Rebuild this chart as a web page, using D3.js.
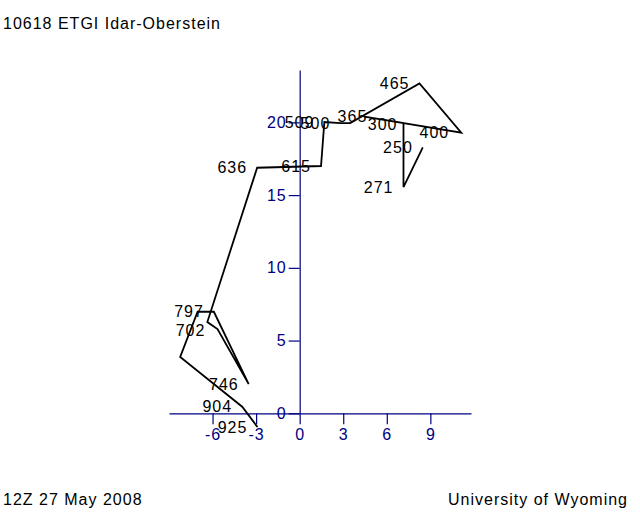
<!DOCTYPE html>
<meta charset='utf-8'>
<head>
  <title>Hodograph 10618</title>
</head>

<style>
body {
  margin: 0;
  background: white;
}

text {
  font-family: "Liberation Sans", Arial, sans-serif;
  font-size: 16px;
  letter-spacing: 1px;
}

.axis path, .axis line {
  stroke: #000080;
  stroke-width: 1.2px;
}

.axis text {
  fill: #000080;
}

.hodo {
  fill: none;
  stroke: black;
  stroke-width: 1.8px;
  stroke-linejoin: miter;
}
</style>

<body>
  <svg width='640' height='512'></svg>

  <script src='https://cdn.jsdelivr.net/npm/d3@7'></script>
  <script>
// levels (hPa), blank where the point has no label
var levels = ['925', '904', '', '', '797', '746', '', '702', '636', '615',
              '509', '500', '', '465', '400', '365', '300', '271', '250'];
// wind components
var uComp = [-2.91, -3.96, -8.23, -7.03, -5.91, -3.51, -5.66, -6.36, -2.93, 1.47,
             1.70, 2.80, 3.48, 8.25, 11.13, 4.45, 7.15, 7.15, 8.48];
var vComp = [-0.94, 0.45, 3.87, 6.99, 6.98, 2.01, 5.79, 6.27, 16.88, 17.0,
             20.02, 19.95, 19.95, 22.68, 19.29, 20.4, 19.95, 15.55, 18.28];

var xTicks = [-6, -3, 0, 3, 6, 9];
var yTicks = [0, 5, 10, 15, 20];

var title = '10618 ETGI Idar-Oberstein';
var dateText = '12Z 27 May 2008';
var source = 'University of Wyoming';

var svg = d3.select('svg');

var x = d3.scaleLinear().domain([-9, 11.8]).range([169, 471]);
var y = d3.scaleLinear().domain([0, 23.6]).range([413.3, 70]);

var points = levels.map(function(p, i) {
  return {p: p, u: uComp[i], v: vComp[i]};
});

// plain hyphen for negatives, like the original plot
function plain(d) { return String(d); }

// axes cross at the origin
svg.append('g')
  .attr('class', 'axis')
  .attr('transform', 'translate(0,' + y(0) + ')')
  .call(d3.axisBottom(x).tickValues(xTicks).tickFormat(plain)
    .tickSize(11).tickSizeOuter(0).tickPadding(4));

svg.append('g')
  .attr('class', 'axis')
  .attr('transform', 'translate(' + x(0) + ',0)')
  .call(d3.axisLeft(y).tickValues(yTicks).tickFormat(plain)
    .tickSize(11).tickSizeOuter(0).tickPadding(2));

svg.selectAll('.axis').attr('font-family', null).attr('font-size', null);

var line = d3.line()
  .x(function(d) { return x(d.u); })
  .y(function(d) { return y(d.v); });

svg.append('path')
  .datum(points)
  .attr('class', 'hodo')
  .attr('d', line);

// small shifts where labels would sit on top of each other
var nudge = {'702': [8, 8], '365': [13, 0], '300': [4, 1], '400': [-2, 0]};

svg.selectAll('.lbl')
  .data(points.filter(function(d) { return d.p !== ''; }))
  .enter()
  .append('text')
  .attr('class', 'lbl')
  .attr('text-anchor', 'end')
  .attr('dy', '0.35em')
  .attr('x', function(d) { return x(d.u) - 10 + (nudge[d.p] ? nudge[d.p][0] : 0); })
  .attr('y', function(d) { return y(d.v) + (nudge[d.p] ? nudge[d.p][1] : 0); })
  .text(function(d) { return d.p; });

svg.append('text').attr('x', 3).attr('y', 29).text(title);
svg.append('text').attr('x', 3).attr('y', 505).text(dateText);
svg.append('text').attr('x', 628).attr('y', 505).attr('text-anchor', 'end').text(source);
  </script>
</body>
</html>
